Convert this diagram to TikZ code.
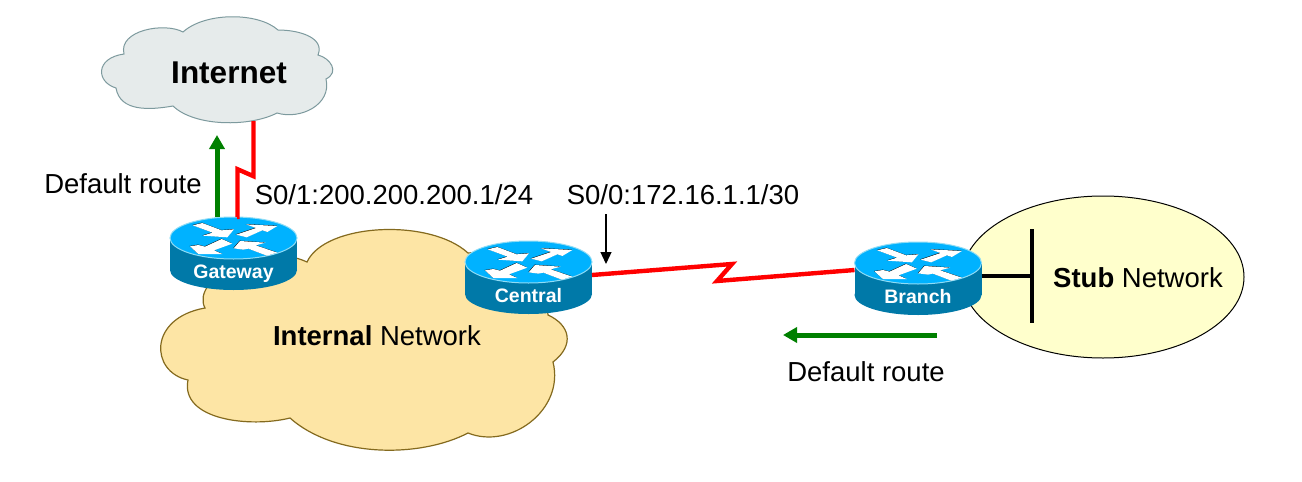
\documentclass[tikz,border=0pt]{standalone}
\usepackage{fontspec}
\setmainfont{Liberation Sans}
\usetikzlibrary{arrows.meta}
\definecolor{cloudgrey}{HTML}{E6EBEB}
\definecolor{cloudgreyline}{HTML}{7D9A9E}
\definecolor{cloudsand}{HTML}{FDE5A5}
\definecolor{cloudsandline}{HTML}{846A1E}
\definecolor{stubfill}{HTML}{FFFFCC}
\definecolor{routertop}{HTML}{00B2FF}
\definecolor{routerside}{HTML}{0079A8}
\definecolor{routerrim}{HTML}{8FDCF5}
\definecolor{routegreen}{HTML}{008000}
\newcommand{\routerarrows}{
  (83,40) -- (112,33) -- (170,55) -- (207,52) -- (187,76) -- (113,71) -- (143,62) -- cycle
  (213,68) -- (245,76) -- (292,55) -- (307,60) -- (337,42) -- (243,37) -- (273,48) -- cycle
  (75,103) -- (100,126) -- (172,126) -- (147,115) -- (202,95) -- (170,81) -- (120,104) -- (100,99) -- cycle
  (206,109) -- (225,87) -- (302,92) -- (272,100) -- (337,122) -- (305,131) -- (250,110) -- (235,113) -- cycle
}
\begin{document}
\begin{tikzpicture}
  [
  x=1pt, y=-1pt,
  bigtext/.style={font=\fontsize{27.5}{30}\selectfont, inner sep=0pt, anchor=base},
  redlink/.style={draw=red, line width=4.4pt},
  routearrow/.style={draw=routegreen, line width=5pt, -{Triangle[length=14pt,width=15pt]}},
  routerbox/.style={minimum width=127pt, minimum height=73pt, inner sep=0pt, outer sep=0pt},
  routerlabel/.style={font=\fontsize{19.5}{22}\selectfont\bfseries, text=white, inner sep=0pt, anchor=base},
  router/.pic={
    \fill[routerside] (-63.5,0) rectangle (63.5,32);
    \fill[routerside] (0,32) ellipse[x radius=63.5, y radius=20];
    \draw[routerrim, fill=routertop, line width=1pt] (0,0) ellipse[x radius=63.5, y radius=21];
    \begin{scope}[shift={(-68.5,-26)},scale=1/3]
      \fill[black,shift={(-1,-1)}] \routerarrows;
      \fill[white] \routerarrows;
    \end{scope}
    \node[routerbox] (box) at (0,15.5) {};
    \node[routerlabel] (label) at (0,40) {#1};
  }
  ]
  \path[use as bounding box, fill=white] (0,0) rectangle (1302,482);

  % clouds and stub area
  \draw[fill=cloudgrey, draw=cloudgreyline, line width=1pt]
    (183,32) .. controls (205,12) and (258,12) .. (278,30)
    .. controls (300,30) and (325,38) .. (318,55)
    .. controls (330,58) and (340,72) .. (326,79)
    .. controls (332,105) and (300,120) .. (277,113)
    .. controls (250,127) and (195,127) .. (173,106)
    .. controls (150,110) and (120,112) .. (116,88)
    .. controls (96,82) and (95,58) .. (124,54)
    .. controls (118,30) and (165,22) .. cycle;
  \draw[fill=cloudsand, draw=cloudsandline, line width=1.2pt]
    (307,262) .. controls (325,223) and (430,218) .. (468,253)
    .. controls (500,250) and (545,275) .. (548,315)
    .. controls (570,325) and (575,345) .. (553,362)
    .. controls (565,410) and (510,450) .. (468,433)
    .. controls (420,458) and (335,458) .. (290,418)
    .. controls (250,428) and (180,420) .. (188,380)
    .. controls (150,372) and (148,318) .. (205,308)
    .. controls (190,280) and (260,240) .. cycle;
  \draw[fill=stubfill, draw=black, line width=1pt] (1103,277) ellipse[x radius=141, y radius=81];

  \node[font=\fontsize{31.5}{34}\selectfont\bfseries, inner sep=0pt, minimum width=210pt, minimum height=96.6pt] (internet) at (229,72.7) {Internet};
  \node[bigtext] (internal) at (377,345) {\textbf{Internal} Network};
  \node[bigtext] (stub) at (1138,287) {\textbf{Stub} Network};

  \pic (gw) at (233.5,238) {router=Gateway};
  \pic (ctr) at (528.5,262) {router=Central};
  \pic (br) at (918,263) {router=Branch};

  % links
  \draw[redlink] ([xshift=24.5pt]internet.south) -- ++(0,55) -- ++(-16,-7) |- ([xshift=3.5pt]gwbox.north);
  \draw[redlink] ([yshift=2.5pt]ctrbox.east) -- (732,264) -- (717,281) -- ([yshift=8.5pt]brbox.west);
  \coordinate (stubtee) at (1032,276);
  \coordinate (stubtop) at (1032,229);
  \coordinate (stubbottom) at (1032,323);
  \draw[line width=4.5pt] ([yshift=2.5pt]brbox.east) -- (stubtee);
  \draw[line width=4.5pt] (stubtop) -- (stubbottom);

  % default routes
  \coordinate (gwroute) at (217,135);
  \coordinate (brroutestart) at (937,335);
  \coordinate (brrouteend) at (783,335);
  \draw[routearrow] ([xshift=-16.5pt]gwbox.north) -- (gwroute);
  \draw[routearrow] (brroutestart) -- (brrouteend);
  \node[bigtext] (gwtext) at (123,193) {Default route};
  \node[bigtext] (brtext) at (866,381) {Default route};

  % interface labels
  \node[bigtext] (s01) at (394,204) {S0/1:200.200.200.1/24};
  \node[bigtext] (s00) at (683,204) {S0/0:172.16.1.1/30};
  \coordinate (s00tip) at (606,264);
  \draw[line width=1.3pt, -{Triangle[length=12pt,width=11pt]}] ([xshift=-77pt,yshift=-10pt]s00.south) -- (s00tip);
\end{tikzpicture}
\end{document}
